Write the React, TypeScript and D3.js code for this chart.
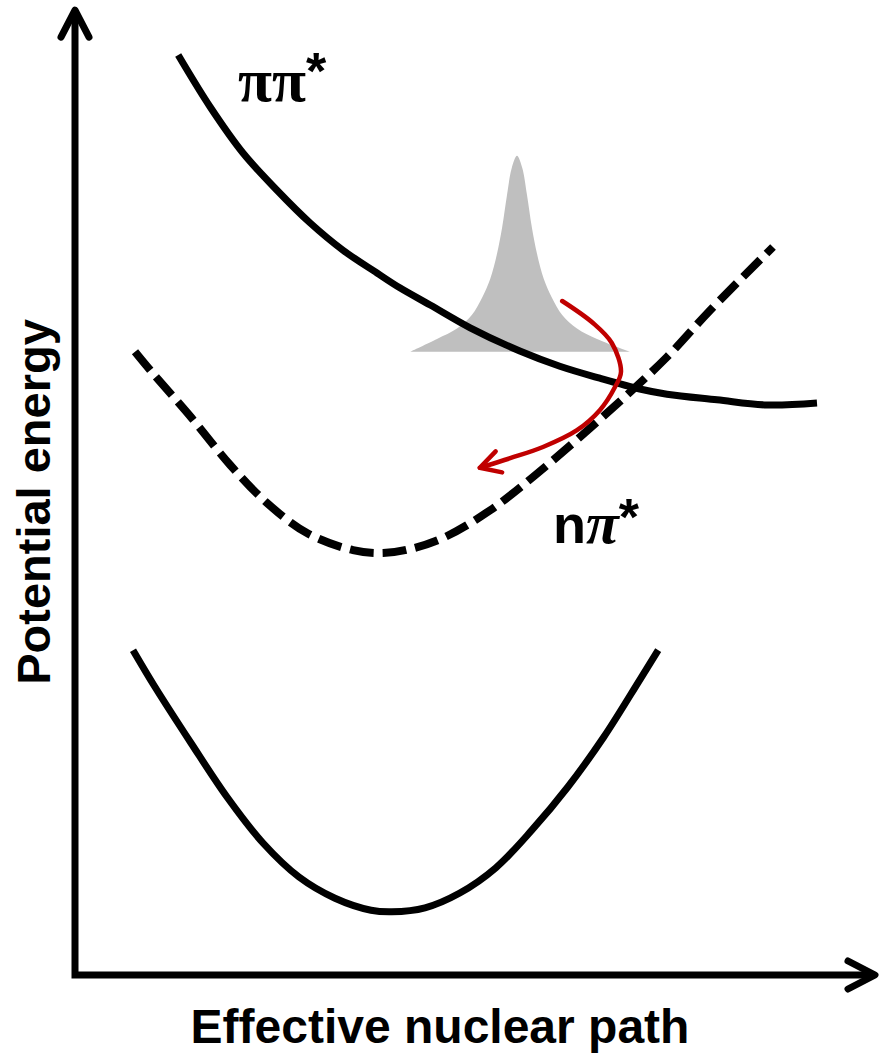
import React from "react";
import * as d3 from "d3";

// Potential energy curves along an effective nuclear coordinate (arbitrary units)
const groundX = [7.25, 10.0, 14.5, 19.0, 23.5, 28.0, 32.5, 37.0, 39.6, 43.75, 48.1, 52.6, 57.1, 61.6, 66.1, 70.6, 72.9];
const groundY = [40.6, 36.0, 29.0, 22.25, 16.5, 12.25, 9.6, 8.1, 7.9, 8.4, 10.25, 13.4, 18.1, 23.5, 29.75, 36.9, 40.6];

const pipiX = [12.9, 16.9, 21.0, 25.25, 29.4, 33.5, 37.75, 40.6, 44.4, 49.4, 55.6, 60.6, 65.6, 70.6, 74.0, 80.25, 86.5, 92.75];
const pipiY = [115.0, 108.5, 102.75, 98.1, 94.0, 90.6, 87.75, 85.9, 83.75, 80.9, 78.0, 76.1, 74.6, 73.25, 72.6, 71.9, 71.25, 71.5];

const npiX = [7.5, 9.4, 14.6, 19.4, 24.0, 29.0, 34.75, 38.5, 41.9, 46.25, 51.9, 57.25, 66.5, 74.0, 79.4, 87.25];
const npiY = [77.9, 75.6, 69.6, 63.75, 59.0, 55.25, 53.1, 52.75, 53.25, 54.75, 58.1, 62.25, 70.25, 77.25, 83.1, 91.0];

// Wavepacket profile sitting on the ππ* surface
const packetX = [41.9, 45.25, 47.75, 49.6, 50.9, 51.9, 52.75, 53.4, 54.0, 54.6, 55.25, 55.9, 56.5, 57.1, 57.75, 58.6, 59.6, 60.9, 62.75, 65.25, 69.4];
const packetY = [77.9, 79.5, 80.8, 82.5, 84.7, 87.0, 90.15, 93.5, 97.5, 100.9, 102.4, 100.9, 97.5, 93.5, 90.15, 87.0, 84.7, 82.5, 80.8, 79.5, 77.9];
const packetBase = 77.9;

// Nonadiabatic transfer path ππ* -> nπ*
const transferX = [60.9, 64.75, 67.1, 68.25, 67.5, 65.6, 62.75, 58.5, 54.4, 50.6];
const transferY = [84.25, 81.5, 79.0, 75.4, 73.5, 70.6, 68.1, 66.0, 64.6, 63.4];

const xLabel = "Effective nuclear path";
const yLabel = "Potential energy";

const W = 884;
const H = 1053;

const zip = (xs: number[], ys: number[]) => xs.map((x, i) => [x, ys[i]] as [number, number]);

export default function App() {
  const x = d3.scaleLinear().domain([0, 100]).range([75, 875]);
  const y = d3.scaleLinear().domain([0, 121]).range([975, 7]);

  const line = d3
    .line<[number, number]>()
    .x((d) => x(d[0]))
    .y((d) => y(d[1]))
    .curve(d3.curveCatmullRom.alpha(0.5));

  const area = d3
    .area<[number, number]>()
    .x((d) => x(d[0]))
    .y0(y(packetBase))
    .y1((d) => y(d[1]))
    .curve(d3.curveCatmullRom.alpha(0.5));

  const axisPath = `M${x(0)},${y(120.6)} L${x(0)},${y(0)} L${x(100)},${y(0)}`;

  const sans = "'Liberation Sans', Arial, sans-serif";
  const serif = "'Liberation Serif', 'Times New Roman', serif";

  return (
    <svg
      width={W}
      height={H}
      viewBox={`0 0 ${W} ${H}`}
      style={{ position: "absolute", left: 0, top: 0, background: "#fff" }}
    >
      <defs>
        <marker id="axisHead" markerUnits="userSpaceOnUse" viewBox="-40 -25 50 50" markerWidth={50} markerHeight={50} refX={0} refY={0} orient="auto">
          <path d="M-27,-14 L0,0 L-27,14" fill="none" stroke="#000" strokeWidth={7} strokeLinecap="round" strokeLinejoin="round" />
        </marker>
        <marker id="redHead" markerUnits="userSpaceOnUse" viewBox="-30 -20 40 40" markerWidth={40} markerHeight={40} refX={0} refY={0} orient="auto">
          <path d="M-20,-11 L0,0 L-20,11" fill="none" stroke="#c00000" strokeWidth={4.5} strokeLinecap="round" strokeLinejoin="round" />
        </marker>
      </defs>

      {/* wavepacket */}
      <path d={area(zip(packetX, packetY)) ?? ""} fill="#bfbfbf" stroke="none" />

      {/* ground state */}
      <path d={line(zip(groundX, groundY)) ?? ""} fill="none" stroke="#000" strokeWidth={7} />

      {/* nπ* state */}
      <path d={line(zip(npiX, npiY)) ?? ""} fill="none" stroke="#000" strokeWidth={8} strokeDasharray="24,9" />

      {/* ππ* state */}
      <path d={line(zip(pipiX, pipiY)) ?? ""} fill="none" stroke="#000" strokeWidth={7} />

      {/* transfer arrow */}
      <path d={line(zip(transferX, transferY)) ?? ""} fill="none" stroke="#c00000" strokeWidth={4.5} strokeLinecap="round" markerEnd="url(#redHead)" />

      {/* axes */}
      <path d={axisPath} fill="none" stroke="#000" strokeWidth={7} strokeLinejoin="miter" />
      <path d={`M${x(0)},${y(60)} L${x(0)},${y(120.6)}`} fill="none" stroke="none" markerEnd="url(#axisHead)" />
      <path d={`M${x(50)},${y(0)} L${x(100)},${y(0)}`} fill="none" stroke="none" markerEnd="url(#axisHead)" />

      {/* state labels */}
      <text x={238} y={101} fontWeight="bold" fill="#000">
        <tspan fontFamily={serif} fontSize={62}>ππ</tspan>
        <tspan fontFamily={sans} fontSize={52} dy={-12}>*</tspan>
      </text>
      <text x={553} y={543} fontWeight="bold" fill="#000">
        <tspan fontFamily={sans} fontSize={54}>n</tspan>
        <tspan fontFamily={serif} fontSize={60} fontStyle="italic">π</tspan>
        <tspan fontFamily={sans} fontSize={52} dy={-8}>*</tspan>
      </text>

      {/* axis titles */}
      <text x={440} y={1043} textAnchor="middle" fontFamily={sans} fontWeight="bold" fontSize={48} fill="#000">
        {xLabel}
      </text>
      <text
        transform={`translate(50,502) rotate(-90)`}
        textAnchor="middle"
        fontFamily={sans}
        fontWeight="bold"
        fontSize={47}
        fill="#000"
      >
        {yLabel}
      </text>
    </svg>
  );
}
